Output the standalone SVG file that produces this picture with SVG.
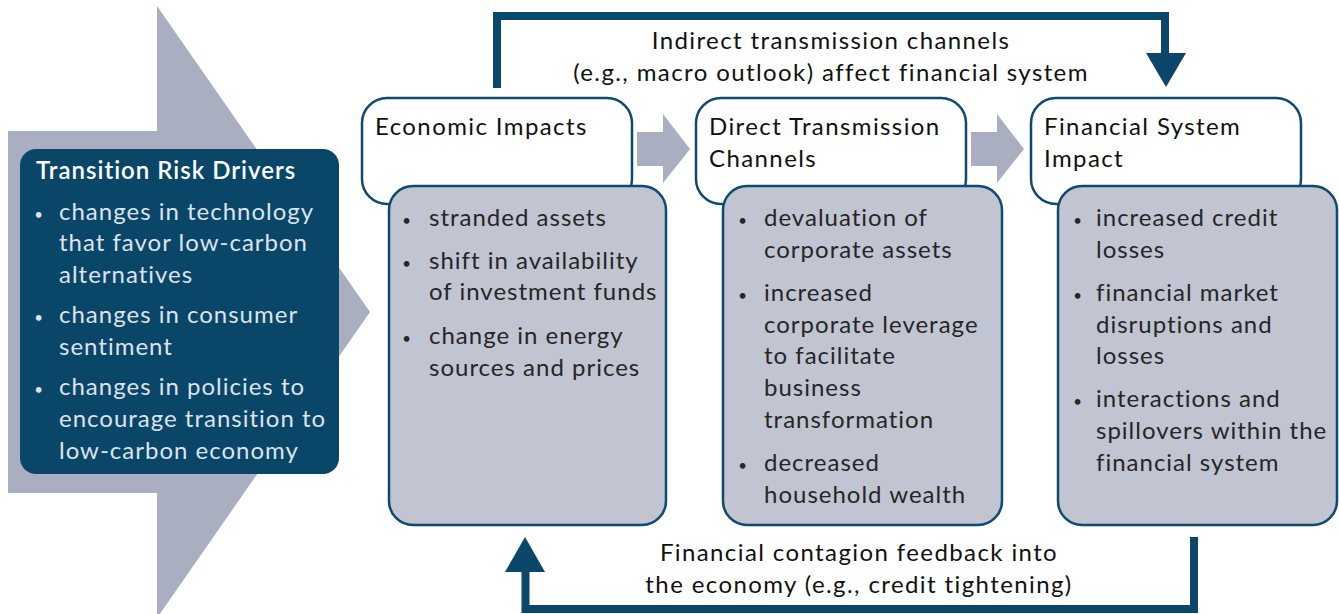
<svg xmlns="http://www.w3.org/2000/svg" width="1339" height="614" viewBox="0 0 1339 614">
  <style>
    .txt { font-family: Lato, "Noto Sans", sans-serif; font-size: 24px; letter-spacing: 1px; fill: #262626; }
    .head { font-family: Lato, "Noto Sans", sans-serif; font-size: 24px; letter-spacing: 1.4px; fill: #111111; }
    .light { font-family: Lato, "Noto Sans", sans-serif; font-size: 24px; letter-spacing: 1px; fill: #DCE3EC; }
    .title { font-family: Lato, "Noto Sans", sans-serif; font-size: 24px; letter-spacing: 1px; font-weight: 600; fill: #FFFFFF; }
    .dot { font-family: Lato, "Noto Sans", sans-serif; font-size: 15px; text-anchor: middle; }
    .hbox { fill: #FFFFFF; stroke: #0F4A6E; stroke-width: 2.5; }
    .bbox { fill: #C1C4D1; stroke: #0F4A6E; stroke-width: 2.5; }
    .step { fill: #A9AFC0; }
    .link { fill: none; stroke: #0B476A; stroke-width: 8; }
    .lhead { fill: #0B476A; }
  </style>

  <!-- large background arrow behind the drivers box -->
  <polygon class="step" points="8,131 157,131 157,6 370,312 157,618 157,493 8,493"/>

  <!-- drivers -->
  <g id="drivers">
    <rect x="20" y="149" width="319" height="325" rx="16" fill="#0A4668"/>
    <text class="title" x="36" y="179">Transition Risk Drivers</text>
    <text class="light dot" x="39" y="220">•</text>
    <text class="light" x="59" y="220">changes in technology</text>
    <text class="light" x="59" y="251">that favor low-carbon</text>
    <text class="light" x="59" y="283">alternatives</text>
    <text class="light dot" x="39" y="323">•</text>
    <text class="light" x="59" y="323">changes in consumer</text>
    <text class="light" x="59" y="355">sentiment</text>
    <text class="light dot" x="39" y="395">•</text>
    <text class="light" x="59" y="395">changes in policies to</text>
    <text class="light" x="59" y="427">encourage transition to</text>
    <text class="light" x="59" y="459">low-carbon economy</text>
  </g>

  <!-- small step arrows between stages -->
  <polygon class="step" points="637,132 663,132 663,114 690,149 663,183 663,166 637,166"/>
  <polygon class="step" points="971,132 997,132 997,114 1024,149 997,183 997,166 971,166"/>

  <g id="economic-impacts">
    <rect class="hbox" x="362" y="98" width="270" height="106" rx="25"/>
    <text class="head" x="375" y="135">Economic Impacts</text>
    <rect class="bbox" x="389" y="186" width="277" height="339" rx="24"/>
    <text class="txt dot" x="407" y="226">•</text>
    <text class="txt" x="429" y="226">stranded assets</text>
    <text class="txt dot" x="407" y="269">•</text>
    <text class="txt" x="429" y="269">shift in availability</text>
    <text class="txt" x="429" y="300">of investment funds</text>
    <text class="txt dot" x="407" y="344">•</text>
    <text class="txt" x="429" y="344">change in energy</text>
    <text class="txt" x="429" y="376">sources and prices</text>
  </g>

  <g id="direct-transmission">
    <rect class="hbox" x="696" y="98" width="270" height="106" rx="25"/>
    <text class="head" x="709" y="135">Direct Transmission</text>
    <text class="head" x="709" y="167">Channels</text>
    <rect class="bbox" x="723" y="186" width="279" height="339" rx="24"/>
    <text class="txt dot" x="743" y="226">•</text>
    <text class="txt" x="764" y="226">devaluation of</text>
    <text class="txt" x="764" y="258">corporate assets</text>
    <text class="txt dot" x="743" y="301">•</text>
    <text class="txt" x="764" y="301">increased</text>
    <text class="txt" x="764" y="333">corporate leverage</text>
    <text class="txt" x="764" y="364">to facilitate</text>
    <text class="txt" x="764" y="396">business</text>
    <text class="txt" x="764" y="428">transformation</text>
    <text class="txt dot" x="743" y="471">•</text>
    <text class="txt" x="764" y="471">decreased</text>
    <text class="txt" x="764" y="503">household wealth</text>
  </g>

  <g id="financial-system">
    <rect class="hbox" x="1031" y="98" width="270" height="106" rx="25"/>
    <text class="head" x="1044" y="135">Financial System</text>
    <text class="head" x="1044" y="167">Impact</text>
    <rect class="bbox" x="1058" y="186" width="279" height="339" rx="24"/>
    <text class="txt dot" x="1078" y="226">•</text>
    <text class="txt" x="1096" y="226">increased credit</text>
    <text class="txt" x="1096" y="258">losses</text>
    <text class="txt dot" x="1078" y="301">•</text>
    <text class="txt" x="1096" y="301">financial market</text>
    <text class="txt" x="1096" y="333">disruptions and</text>
    <text class="txt" x="1096" y="364">losses</text>
    <text class="txt dot" x="1078" y="407">•</text>
    <text class="txt" x="1096" y="407">interactions and</text>
    <text class="txt" x="1096" y="439">spillovers within the</text>
    <text class="txt" x="1096" y="471">financial system</text>
  </g>

  <!-- feedback connectors -->
  <g id="connectors">
    <polyline class="link" points="497,88 497,16 1165,16 1165,54"/>
    <polygon class="lhead" points="1146,53 1186,53 1166,87"/>
    <text class="head" x="831" y="49" text-anchor="middle">Indirect transmission channels</text>
    <text class="head" x="831" y="81" text-anchor="middle">(e.g., macro outlook) affect financial system</text>

    <polyline class="link" points="1194,537 1194,609 525.5,609 525.5,571"/>
    <polygon class="lhead" points="505,572 545,572 525,537"/>
    <text class="head" x="859" y="561" text-anchor="middle">Financial contagion feedback into</text>
    <text class="head" x="859" y="593" text-anchor="middle">the economy (e.g., credit tightening)</text>
  </g>
</svg>
